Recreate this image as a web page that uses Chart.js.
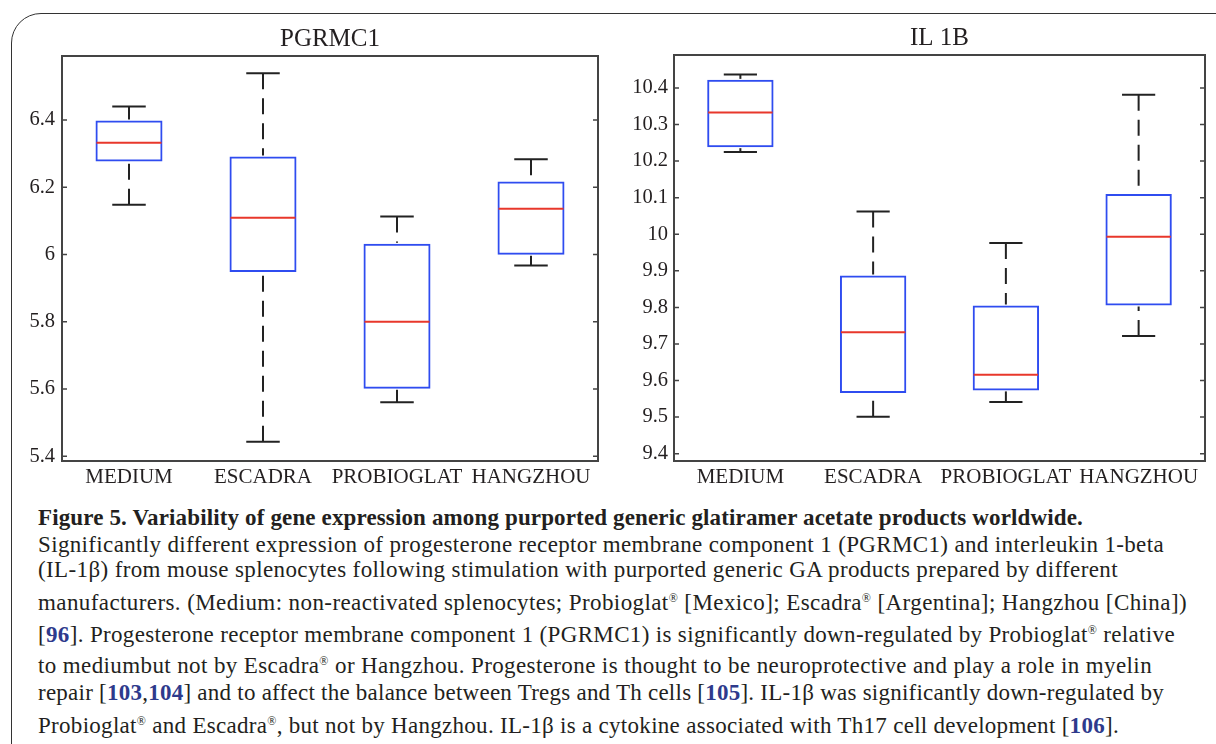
<!DOCTYPE html>
<html>
<head>
<meta charset="utf-8">
<script src="https://cdn.jsdelivr.net/npm/chart.js@4.4.0/dist/chart.umd.min.js"></script>
<style>
    body { margin: 0; width: 1216px; height: 744px; overflow: hidden; background: #fff; position: relative;
           font-family: "Liberation Serif", serif; color: #231f20; }
    #frame { position: absolute; left: 11px; top: 13px; width: 1240px; height: 762px;
             border: 1.5px solid #333; border-radius: 30px; box-sizing: border-box; }
    .panel { position: absolute; top: 0; height: 500px; }
    #left_panel { left: 0; width: 610px; }
    #right_panel { left: 610px; width: 606px; }
    .cap { position: absolute; left: 38px; font-size: 23px; line-height: 23px; white-space: nowrap; }
    .cap .ref { color: #2e3a8c; font-weight: bold; }
    sup { font-size: 12px; line-height: 0; vertical-align: 8px; }
</style>
</head>
<body>
<div id="frame"></div>
<div class="panel" id="left_panel"><canvas id="pgrmc1_chart"></canvas></div>
<div class="panel" id="right_panel"><canvas id="il1b_chart"></canvas></div>

<div class="cap" style="top:506px"><b>Figure 5. Variability of gene expression among purported generic glatiramer acetate products worldwide.</b></div>
<div class="cap" style="top:533px">Significantly different expression of progesterone receptor membrane component 1 (PGRMC1) and interleukin 1-beta</div>
<div class="cap" style="top:558px">(IL-1β) from mouse splenocytes following stimulation with purported generic GA products prepared by different</div>
<div class="cap" style="top:591px">manufacturers. (Medium: non-reactivated splenocytes; Probioglat<sup>®</sup> [Mexico]; Escadra<sup>®</sup> [Argentina]; Hangzhou [China])</div>
<div class="cap" style="top:623px">[<span class="ref">96</span>]. Progesterone receptor membrane component 1 (PGRMC1) is significantly down-regulated by Probioglat<sup>®</sup> relative</div>
<div class="cap" style="top:654px">to mediumbut not by Escadra<sup>®</sup> or Hangzhou. Progesterone is thought to be neuroprotective and play a role in myelin</div>
<div class="cap" style="top:681px">repair [<span class="ref">103</span>,<span class="ref">104</span>] and to affect the balance between Tregs and Th cells [<span class="ref">105</span>]. IL-1β was significantly down-regulated by</div>
<div class="cap" style="top:714px">Probioglat<sup>®</sup> and Escadra<sup>®</sup>, but not by Hangzhou. IL-1β is a cytokine associated with Th17 cell development [<span class="ref">106</span>].</div>

<script>
    const categories = ['MEDIUM', 'ESCADRA', 'PROBIOGLAT', 'HANGZHOU'];

    // PGRMC1 panel
    const pgrmc1_min    = [6.148, 5.443, 5.561, 5.967];
    const pgrmc1_q1     = [6.276, 5.948, 5.601, 5.999];
    const pgrmc1_median = [6.332, 6.109, 5.800, 6.136];
    const pgrmc1_q3     = [6.398, 6.291, 6.032, 6.217];
    const pgrmc1_max    = [6.440, 6.539, 6.113, 6.283];
    const pgrmc1_ticks  = [5.4, 5.6, 5.8, 6, 6.2, 6.4];

    // IL 1B panel
    const il1b_min    = [10.225, 9.501, 9.541, 9.722];
    const il1b_q1     = [10.238, 9.566, 9.573, 9.805];
    const il1b_median = [10.333, 9.732, 9.616, 9.993];
    const il1b_q3     = [10.422, 9.887, 9.805, 10.110];
    const il1b_max    = [10.437, 10.062, 9.976, 10.381];
    const il1b_ticks  = [9.4, 9.5, 9.6, 9.7, 9.8, 9.9, 10, 10.1, 10.2, 10.3, 10.4];

    const text_color = '#231f20';
    const box_color = '#2f4cf0';
    const median_color = '#e8372b';
    const whisker_color = '#222';
    const axis_color = '#444';
    const font_family = '"Liberation Serif", serif';

    // caption lines are stretched so each ends where the printed line ends
    const caption_right = [1083, 1164, 1118, 1187, 1175, 1152, 1164, 1119];
    document.querySelectorAll('.cap').forEach((el, i) => {
        const w = el.getBoundingClientRect().width;
        const n = el.textContent.length;
        el.style.letterSpacing = ((caption_right[i] - 38 - w) / n).toFixed(3) + 'px';
    });

    // whiskers, caps and medians drawn on top of the floating bars (boxes)
    function boxExtras(min, median, max) {
        return {
            id: 'boxExtras',
            afterDatasetsDraw(chart) {
                const ctx = chart.ctx;
                const y = chart.scales.y;
                const meta = chart.getDatasetMeta(0);
                const seg = (x1, y1, x2, y2) => { ctx.beginPath(); ctx.moveTo(x1, y1); ctx.lineTo(x2, y2); ctx.stroke(); };
                ctx.save();
                meta.data.forEach((bar, i) => {
                    const x = bar.x, half = bar.width / 2;
                    const top = Math.min(bar.y, bar.base), bottom = Math.max(bar.y, bar.base);
                    const yMax = y.getPixelForValue(max[i]), yMin = y.getPixelForValue(min[i]);
                    ctx.strokeStyle = whisker_color;
                    ctx.lineWidth = 2;
                    ctx.setLineDash([16, 9]);
                    seg(x, yMax, x, top - 1);
                    seg(x, yMin, x, bottom + 1);
                    ctx.setLineDash([]);
                    seg(x - half / 2, yMax, x + half / 2, yMax);
                    seg(x - half / 2, yMin, x + half / 2, yMin);
                    const yMed = y.getPixelForValue(median[i]);
                    ctx.strokeStyle = median_color;
                    seg(x - half + 1, yMed, x + half - 1, yMed);
                });
                ctx.restore();
            }
        };
    }

    // axes box with inward ticks on both sides
    const axesFrame = {
        id: 'axesFrame',
        afterDraw(chart) {
            const ctx = chart.ctx, a = chart.chartArea, y = chart.scales.y;
            ctx.save();
            ctx.strokeStyle = axis_color;
            ctx.lineWidth = 2;
            ctx.strokeRect(a.left, a.top, a.right - a.left, a.bottom - a.top);
            ctx.lineWidth = 1.5;
            y.ticks.forEach(t => {
                const py = y.getPixelForValue(t.value);
                ctx.beginPath();
                ctx.moveTo(a.left, py); ctx.lineTo(a.left + 5, py);
                ctx.moveTo(a.right, py); ctx.lineTo(a.right - 5, py);
                ctx.stroke();
            });
            ctx.restore();
        }
    };

    function makeChart(element, title, q1, q3, min, median, max, ticks, yMin, yMax, layout) {
        return new Chart(document.getElementById(element), {
            type: 'bar',
            data: {
                labels: categories,
                datasets: [{
                    data: q1.map((v, i) => [v, q3[i]]),
                    backgroundColor: 'rgba(0,0,0,0)',
                    borderColor: box_color,
                    borderWidth: 2,
                    borderSkipped: false,
                    barPercentage: 0.5,
                    categoryPercentage: 1.0,
                }],
            },
            options: {
                responsive: true,
                maintainAspectRatio: false,
                animation: false,
                layout: { padding: { left: 0, right: layout.right, top: 0, bottom: 0 } },
                plugins: {
                    legend: { display: false },
                    tooltip: { enabled: false },
                    title: {
                        display: true,
                        text: title,
                        fullSize: false,
                        color: text_color,
                        font: { family: font_family, size: 25, weight: 'normal' },
                        padding: { top: layout.titleTop, bottom: 2 },
                    },
                },
                scales: {
                    x: {
                        grid: { display: false, drawTicks: false },
                        border: { display: false },
                        ticks: { color: text_color, font: { family: font_family, size: 21 }, padding: 4, maxRotation: 0, autoSkip: false },
                        afterFit: s => { s.height = 39; },
                    },
                    y: {
                        min: yMin,
                        max: yMax,
                        grid: { display: false, drawTicks: false },
                        border: { display: false },
                        ticks: {
                            color: text_color,
                            font: { family: font_family, size: 20.5 },
                            padding: layout.tickPad,
                            callback: v => String(Math.round(v * 10) / 10),
                        },
                        afterBuildTicks: s => { s.ticks = ticks.map(v => ({ value: v })); },
                        afterFit: s => { s.width = layout.yWidth; },
                    },
                },
            },
            plugins: [boxExtras(min, median, max), axesFrame],
        });
    }

    try {
        makeChart('pgrmc1_chart', 'PGRMC1', pgrmc1_q1, pgrmc1_q3, pgrmc1_min, pgrmc1_median, pgrmc1_max,
                  pgrmc1_ticks, 5.386, 6.59, { right: 12, yWidth: 62, tickPad: 7, titleTop: 24 });
        makeChart('il1b_chart', 'IL 1B', il1b_q1, il1b_q3, il1b_min, il1b_median, il1b_max,
                  il1b_ticks, 9.38, 10.49, { right: 11, yWidth: 64, tickPad: 6, titleTop: 23 });
    } catch (error) {
        console.log(`error: ${error.message}`);
    }
</script>
</body>
</html>
